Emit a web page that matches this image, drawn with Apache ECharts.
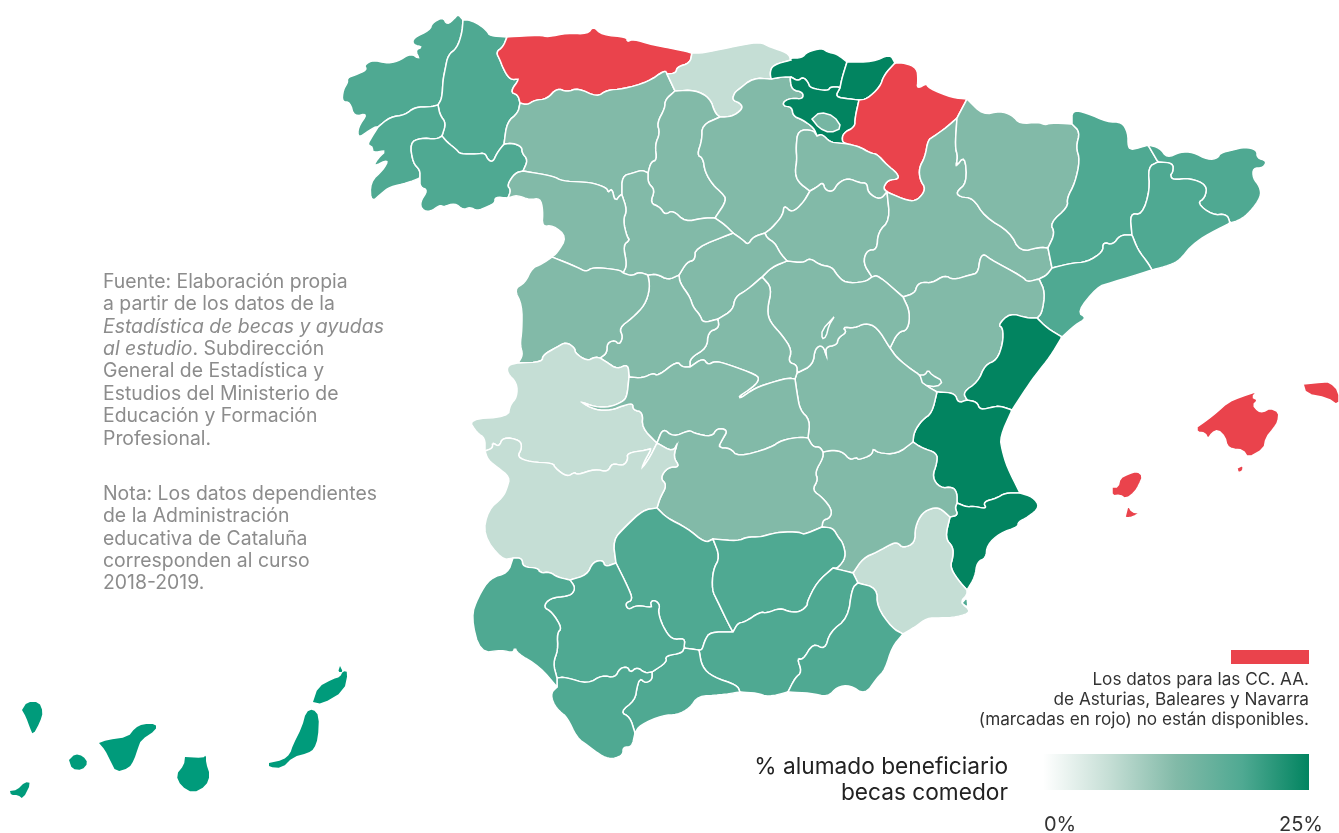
<!DOCTYPE html>
<html>
<head>
<meta charset="utf-8">
<title>Becas comedor</title>
<script src="https://cdn.jsdelivr.net/npm/echarts@6/dist/echarts.min.js"></script>
<style>
html,body{margin:0;padding:0;background:#fff}
#main{width:1339px;height:833px}
</style>
</head>
<body>
<div id="main"></div>
<script>
// datos: % alumnado beneficiario por provincia (null = no disponible)
var claros = ['Cantabria','Cáceres','Badajoz','Murcia'];
var medios = ['León','Palencia','Zamora','Valladolid','Burgos','Soria','La Rioja','Huesca','Zaragoza','Teruel','Salamanca','Ávila','Segovia','Madrid','Guadalajara','Cuenca','Toledo','Ciudad Real','Albacete'];
var enclaves = ['Treviño','Rincón de Ademuz','Entrepeñas'];
var fuertes = ['A Coruña','Lugo','Pontevedra','Ourense','Lleida','Girona','Barcelona','Tarragona','Huelva','Sevilla','Cádiz','Córdoba','Málaga','Jaén','Granada','Almería','Mar Menor'];
var oscuros = ['Bizkaia','Gipuzkoa','Álava','Castellón','Valencia','Alicante'];
var sinDatos = ['Asturias','Navarra','Baleares'];
var canarias = ['Las Palmas','Santa Cruz de Tenerife'];
var valorClaro = 6.25, valorMedio = 12.5, valorEnclave = 14, valorFuerte = 18.75, valorOscuro = 25, valorCanarias = 21;

var textoFuente = ['Fuente: Elaboración propia','a partir de los datos de la','{i|Estadística de becas y ayudas}','{i|al estudio}. Subdirección','General de Estadística y','Estudios del Ministerio de','Educación y Formación','Profesional.'];
var textoNota = ['Nota: Los datos dependientes','de la Administración','educativa de Cataluña','corresponden al curso','2018-2019.'];
var textoRojo = ['Los datos para las CC. AA.','de Asturias, Baleares y Navarra','(marcadas en rojo) no están disponibles.'];
var textoLeyenda = ['% alumado beneficiario','becas comedor'];
var rangoLeyenda = [0, 25];
var coloresEscala = ['#ffffff','#c5ded5','#82baa8','#4fa992','#028460'];

// geometria del mapa, en pixeles, por tramos de frontera compartidos
var T = {
C_coast:[463,20,458,14,455,18,447,25,443,17,432,23,430,30,413,38,413,45,423,47,415,50,420,60,411,53,397,62,385,63,373,60,364,65,367,70,355,75,347,78,348,82,343,90,342,102,350,102,354,117,368,113,358,127,358,138,367,132,375,127,378,127],
C_LU:[463,20,462,33,457,48,448,55,445,70,443,80,442,98,438,105],
C_PO:[438,105,430,107,415,107,405,115,390,117,378,127],
PO_LU:[438,105,440,115,446,123,442,136],
PO_coast:[378,127,373,135,367,145,373,147,372,153,387,150,378,158,373,167,389,159,383,170,370,182,371,203,383,192,390,187,407,183,420,178],
PO_OU:[442,136,437,139,420,138,410,143,413,163,420,170,420,178],
OU_coast:[420,178,420,187,428,190,420,202,422,210,430,212,440,205,443,207,455,203,463,210,470,207,477,211,487,207,495,203,495,197,508,198],
OU_ZA:[523,171,515,173,507,185,511,190,508,198],
OU_LE:[504,144,513,143,522,147,522,153,528,160,523,171],
LU_OU:[442,136,447,142,457,150,460,154,477,154,485,153,488,160,493,162,497,153,504,144],
LU_coast:[463,20,470,20,480,25,487,31,490,36,507,37],
LU_AS:[507,37,503,47,496,52,500,60,503,68,508,77,513,80,520,78,510,92,518,95,520,103],
LU_LE:[520,103,518,113,507,122,504,144],
AS_coast:[507,37,540,35,548,37,567,33,588,34,593,26,602,35,627,37,627,42,633,39,653,45,680,50,692,53],
AS_LE:[520,103,527,105,535,100,547,99,557,88,567,92,578,88,597,97,607,90,623,89,648,82,665,70,667,74],
AS_S:[692,53,690,63,677,67,676,73,667,74],
LE_S:[667,74,675,91],
LE_P:[675,91,665,100,665,108,657,123,660,133,655,145,657,160,651,162,648,173],
LE_VA:[648,173,642,170,633,173,622,176,622,195],
LE_ZA:[523,171,553,176,562,181,582,182,593,183,607,188,608,193,612,188,615,202,620,195,622,195],
ZA_VA:[622,195,627,210,623,220,627,237,630,240,623,245,627,265,623,273],
ZA_SA:[552,257,577,267,586,272,593,267,620,270,623,273],
ZA_coast:[508,198,517,195,530,200,540,198,543,210,542,227,553,225,567,237,557,253,552,257],
SA_coast:[552,257,542,264,532,268,525,283,514,289,522,305,522,330,520,345,523,355,518,363],
SA_CC:[518,363,542,362,543,355,557,347,566,342,575,348,575,353,587,361,595,357,600,358],
AV_CC:[600,358,608,363,617,369,628,364,629,377],
SA_AV:[648,275,650,288,645,305,632,318,619,328,623,337,619,345,615,340,607,343,607,353,600,358],
SA_VA:[623,273,632,276,639,272,648,275],
VA_AV:[648,275,657,274,668,280,679,275],
AV_SG:[679,275,680,283,690,297,693,307,700,315,703,323,718,319],
AV_M:[718,319,719,328,708,332,707,348,690,358,690,367],
AV_TO:[629,377,643,378,653,373,658,376,677,361,682,367,690,367],
SG_M:[718,319,733,310,735,297,747,290,762,277],
M_TO:[690,367,703,358,708,365,715,361,727,364,757,375,759,380,753,387,738,397,741,398,755,388,773,382,788,378,795,379],
M_GU:[762,277,772,288,767,310,770,322,782,335,792,350,788,362,797,365,797,373],
M_CU:[797,373,795,379],
SG_GU:[762,277,772,267,787,261],
SO_GU:[787,261,803,263,810,258,820,265,832,267,837,275,845,283,865,282,872,277],
S_coast:[692,53,703,53,727,48,742,45,760,42,770,47,788,53,791,60],
S_BI:[791,60,773,65,770,72,771,79],
S_BU:[720,117,727,117,735,115,743,108,740,103,732,100,735,92,738,90,753,78,771,79],
S_P:[675,91,695,90,710,98,715,113,720,117],
P_BU:[720,117,702,125,702,140,697,155,703,158,705,172,713,185,722,193,727,200,715,218],
VA_P:[648,173,648,183,655,190,650,203,660,207,665,215,673,210,685,222,703,218,715,218],
VA_BU:[715,218,725,225,733,233],
VA_SG:[733,233,695,248,695,260,687,262,679,275],
BU_SG:[733,233,743,240,748,245,753,237,765,233],
SG_SO:[765,233,767,238,775,243,780,253,787,261],
BU_SO:[810,191,803,203,792,213,784,205,783,215,772,228,765,233],
LO_BU:[810,191,798,182,795,172,797,160,796,147,798,130,813,130,817,136],
BU_VI:[791,77,790,79,792,90,803,92,803,99,792,98,784,101,783,106,792,107,793,116,803,120,814,128,817,136],
BI_BU:[771,79,782,77,791,77],
BI_coast:[791,60,790,58,802,58,807,52,822,48,827,52,837,54,847,62],
VI_BI:[791,77,798,81,803,77,808,82,810,88,828,91,830,87,839,87,840,88],
BI_SS:[847,62,842,78,840,88],
VI_SS:[840,88,835,97,850,99,859,100],
SS_NA:[859,100,867,99,880,87,884,75,895,63],
SS_coast:[847,62,873,62,890,54,895,63],
VI_NA:[859,100,855,118,855,127,843,133,842,142,848,144],
VI_LO:[817,136,822,134,830,142,838,143,848,144],
NA_LO:[848,144,860,147,870,153,877,154,887,165,897,173,899,179,888,180,883,188,887,192],
NA_Z:[887,192,908,201,918,200,926,189,920,180,919,168,925,157,928,140,933,137,947,127,957,118],
NA_HU:[957,118,967,99],
NA_coast:[895,63,905,63,917,68,918,80,917,89,927,83,928,88,953,98,967,99],
LO_SO:[810,191,817,187,823,182,825,190,833,192,838,183,848,178,860,183,867,183,868,193,880,200,887,192],
Z_SO:[887,192,890,220,878,232,877,250,867,250,863,263,872,277],
Z_GU:[872,277,878,275,903,297],
Z_TE:[903,297,915,293,917,285,923,282,932,283,945,275,953,280,970,275,978,273,980,258,984,254,988,258,1023,277,1027,282,1039,279],
Z_T:[1039,279,1047,275,1052,268],
Z_HU:[957,118,955,147,958,157,955,168,965,155,967,183,956,192,960,197,973,198,985,217,1010,232,1020,252,1040,247,1048,248],
Z_L:[1048,248,1052,268],
HU_coast:[967,99,983,115,1000,111,1012,115,1020,124,1038,122,1045,125,1050,123,1072,124],
HU_L:[1072,124,1080,132,1076,147,1080,160,1075,183,1067,198,1068,207,1050,223,1055,233,1048,248],
L_T:[1052,268,1072,263,1087,262,1103,252,1103,242,1113,245,1120,235,1132,235],
L_B:[1132,235,1130,213,1142,215,1150,190,1148,167,1158,162],
L_GI:[1148,145,1158,162],
L_coast:[1072,124,1072,110,1087,113,1107,122,1122,122,1128,133,1128,147,1132,150,1148,145],
B_GI:[1158,162,1173,163,1173,172,1170,175,1173,180,1190,178,1207,185,1205,198,1197,203,1212,215,1227,214,1230,223],
GI_coast:[1148,145,1160,148,1167,158,1180,152,1193,152,1208,160,1218,158,1220,153,1233,150,1245,147,1257,150,1257,158,1267,161,1263,168,1253,168,1253,178,1260,187,1261,197,1250,212,1240,220,1230,223],
B_coast:[1230,223,1203,237,1190,247,1180,260,1170,265,1152,270],
B_T:[1132,235,1138,250,1148,263,1152,270],
T_coast:[1152,270,1110,283,1097,287,1077,312,1087,318,1075,325,1062,337],
T_TE:[1039,279,1045,292,1042,313,1037,318],
T_CS:[1037,318,1047,328,1062,337],
TE_CS:[1037,318,1027,318,1010,313,998,325,1003,328,1003,343,997,360,985,365,978,382,963,392,967,400],
TE_V:[967,400,958,403,955,393,937,392],
CS_V:[967,400,977,402,980,410,993,407,1000,406,1012,410],
CS_coast:[1062,337,1050,357,1037,373,1027,387,1012,410],
TE_GU:[903,297,910,312,908,330,898,332,890,348],
TE_CU:[890,348,897,358,912,370,920,375,925,385,937,392],
GU_CU:[797,373,813,365,815,348,823,345,827,358,825,347,837,345,838,338,847,332,842,327,855,328,865,323,877,327,890,348],
CU_V:[937,392,932,413,922,420,914,432,913,442],
V_AB:[913,442,922,448,937,453,937,463,932,477,940,488,953,487,957,493,957,503],
A_AB:[957,503,955,508,958,515,950,517],
V_A:[957,503,967,507,973,506,987,509,983,502,997,498,1005,493,1020,493],
V_coast:[1012,410,1000,437,1002,450,1007,467,1020,493],
A_coast:[1020,493,1033,497,1040,507,1028,517,1018,522,1018,527,1000,533,987,545,986,558,977,562,975,577,967,590],
A_MU:[950,517,945,538,953,547,953,557,950,567,958,580,967,590],
MU_coast:[967,590,967,595,960,602,972,612,957,617,940,618,927,618,915,627,903,634],
AB_MU:[950,517,940,508,932,508,922,513,915,527,915,543,903,548,898,543,893,543,877,552,863,558,853,573],
AB_GR:[833,568,853,573],
MU_GR:[853,573,858,583],
MU_AL:[858,583,877,588,877,607,892,628,903,634],
GR_AL:[858,583,852,588,848,618,830,632,825,650,813,643,803,660,797,658,802,672,795,678,788,692],
AL_coast:[903,634,892,647,885,670,877,678,865,695,850,685,837,687,828,697,810,693,788,692],
CU_AB:[823,452,833,450,843,452,850,460,857,457,858,460,872,455,873,448,878,453,897,454,913,442],
TO_CU:[795,379,797,393,800,410,810,420,808,438],
CU_CR:[808,438,813,447,820,447,823,452],
CR_AB:[822,527,823,520,830,518,832,510,823,498,812,490,818,480,815,472,823,458,823,452],
AB_J:[822,527,833,528,838,537,843,543,846,557,838,568,833,568],
TO_CR:[808,438,800,437,782,440,770,448,738,457,730,448,718,448,722,440,728,430,717,428,712,437,693,433,690,430,673,437,663,428,657,443],
CC_TO:[629,377,627,397,622,402,610,407,595,407,579,401,595,410,612,410,622,406,633,403,633,410,643,412,642,428,657,443],
CC_coast:[518,363,508,365,507,373,517,383,517,397,510,405,508,417,468,419,477,433,485,438,485,451],
CC_BA:[485,451,493,448,492,442,499,447,503,437,520,440,522,448,517,457,530,462,553,463,555,468,567,477,575,472,577,475,595,469,608,472,612,463,623,466,628,460,627,453,647,450,652,448,645,460,641,470,650,457,655,447,657,443],
BA_CR:[657,443,673,452,678,442,673,457,680,467,668,467,660,478,667,485,660,498,657,508],
CR_CO:[657,508,667,518,687,528,705,543,713,539],
CR_J:[713,539,738,541,747,537,760,537,767,535,780,532,800,532,803,535,822,527],
CO_J:[713,539,720,557,713,570,712,590,717,600,728,623,733,632],
J_GR:[833,568,817,582,807,602,808,605,800,612,790,612,780,608,767,613,760,612,745,622,738,623,733,632],
CO_GR:[733,632,710,632,705,640,702,650,699,650],
GR_MA:[699,650,702,667,713,677,737,685,740,692],
GR_coast:[740,692,757,693,768,697,788,692],
MA_coast:[740,692,720,695,698,696,690,708,677,715,663,715,640,725,635,733],
MA_CA:[635,733,630,717,620,712,635,700,637,687,640,678,645,683,652,680,652,672],
MA_SE:[652,672,667,662,665,656,682,653,684,648],
CO_MA:[684,648,699,650],
SE_CO:[684,648,685,638,672,640,663,627,658,612,660,605,655,600,650,602,653,608,637,605,628,610,625,603,633,600,628,587,616,563],
BA_CO:[616,563,613,540,625,527,643,510,657,508],
BA_SE:[616,563,605,567,603,560,593,562,587,575,570,580],
H_BA:[570,580,557,577,550,572,540,573,538,568,523,567,522,558,513,558],
BA_coast:[485,451,488,460,497,467,510,477,507,488,503,497,488,510,483,535,502,560,513,558],
H_coast:[513,558,508,573,490,578,478,597,471,617,480,653,502,650,513,653,515,647,517,653,540,667,557,687],
H_SE:[570,580,575,587,573,593,568,596,550,598,543,607,552,612,562,628,557,633,558,650,553,663,557,678],
H_CA:[557,678,557,687],
SE_CA:[557,678,565,677,588,684,602,675,615,678,620,668,628,667,630,673,637,667,645,673,652,672],
CA_coast:[557,687,551,693,553,703,560,712,567,717,577,738,587,745,603,757,613,759,623,755,623,747,632,747,635,733]
};
// cada provincia: lista de tramos ('-' = recorrido al reves) o islas sueltas
var R = {
'A Coruña':['C_coast','-C_PO','-C_LU'],
'Lugo':['LU_coast','LU_AS','LU_LE','-LU_OU','-PO_LU','-C_LU'],
'Pontevedra':['C_PO','PO_coast','-PO_OU','-PO_LU'],
'Ourense':['PO_OU','OU_coast','-OU_ZA','-OU_LE','-LU_OU'],
'Asturias':['AS_coast','AS_S','-AS_LE','-LU_AS'],
'León':['LE_S','LE_P','LE_VA','-LE_ZA','-OU_LE','-LU_LE','AS_LE'],
'Cantabria':['S_coast','S_BI','-S_BU','-S_P','-LE_S','-AS_S'],
'Palencia':['S_P','P_BU','-VA_P','-LE_P'],
'Burgos':['S_BU','BI_BU','BU_VI','-LO_BU','BU_SO','-BU_SG','-VA_BU','-P_BU'],
'Bizkaia':['BI_coast','BI_SS','-VI_BI','-BI_BU','-S_BI'],
'Gipuzkoa':['SS_coast','-SS_NA','-VI_SS','-BI_SS'],
'Álava':['VI_BI','VI_SS','VI_NA','-VI_LO','-BU_VI'],
'Navarra':['SS_NA','NA_coast','-NA_HU','-NA_Z','-NA_LO','-VI_NA'],
'La Rioja':['LO_BU','VI_LO','NA_LO','-LO_SO'],
'Soria':['LO_SO','Z_SO','-SO_GU','-SG_SO','-BU_SO'],
'Zaragoza':['NA_Z','Z_HU','Z_L','-Z_T','-Z_TE','-Z_GU','-Z_SO'],
'Huesca':['NA_HU','HU_coast','HU_L','-Z_HU'],
'Lleida':['-HU_L','L_coast','L_GI','-L_B','-L_T','-Z_L'],
'Girona':['GI_coast','-B_GI','-L_GI'],
'Barcelona':['L_B','B_GI','B_coast','-B_T'],
'Tarragona':['L_T','B_T','T_coast','-T_CS','-T_TE','Z_T'],
'Teruel':['Z_TE','T_TE','TE_CS','TE_V','-TE_CU','-TE_GU'],
'Castellón':['T_CS','CS_coast','-CS_V','-TE_CS'],
'Valencia':['CS_V','V_coast','-V_A','-V_AB','-CU_V','-TE_V'],
'Alicante':['V_A','A_coast','-A_MU','-A_AB'],
'Murcia':['AB_MU','MU_GR','MU_AL','-MU_coast','-A_MU'],
'Albacete':['V_AB','A_AB','AB_MU','-AB_GR','-AB_J','CR_AB','CU_AB'],
'Cuenca':['GU_CU','TE_CU','CU_V','-CU_AB','-CU_CR','-TO_CU','-M_CU'],
'Guadalajara':['SO_GU','Z_GU','TE_GU','-GU_CU','-M_GU','SG_GU'],
'Segovia':['BU_SG','SG_SO','-SG_GU','-SG_M','-AV_SG','-VA_SG'],
'Madrid':['SG_M','M_GU','M_CU','-M_TO','-AV_M'],
'Ávila':['VA_AV','AV_SG','AV_M','-AV_TO','-AV_CC','-SA_AV'],
'Valladolid':['-LE_VA','VA_P','VA_BU','VA_SG','-VA_AV','-SA_VA','-ZA_VA'],
'Zamora':['LE_ZA','ZA_VA','-ZA_SA','-ZA_coast','-OU_ZA'],
'Salamanca':['ZA_SA','SA_VA','SA_AV','-SA_CC','-SA_coast'],
'Cáceres':['SA_CC','AV_CC','CC_TO','-CC_BA','-CC_coast'],
'Toledo':['AV_TO','M_TO','TO_CU','TO_CR','-CC_TO'],
'Ciudad Real':['-TO_CR','CU_CR','-CR_AB','-CR_J','-CR_CO','-BA_CR'],
'Badajoz':['CC_BA','BA_CR','-BA_CO','BA_SE','H_BA','-BA_coast'],
'Córdoba':['CR_CO','CO_J','CO_GR','-CO_MA','SE_CO','BA_CO'],
'Jaén':['CR_J','AB_J','J_GR','-CO_J'],
'Granada':['AB_GR','MU_GR','GR_AL','-GR_coast','-GR_MA','-CO_GR','-J_GR'],
'Almería':['MU_AL','AL_coast','-GR_AL'],
'Málaga':['CO_MA','GR_MA','MA_coast','MA_CA','MA_SE'],
'Sevilla':['-SE_CO','-MA_SE','-SE_CA','-H_SE','-BA_SE'],
'Cádiz':['SE_CA','-MA_CA','-CA_coast','-H_CA'],
'Huelva':['-H_BA','H_SE','H_CA','-H_coast']
};
var islas = {
'Baleares':[
[1197,427,1207,420,1217,412,1228,402,1240,397,1258,391,1252,397,1258,400,1253,405,1258,411,1263,412,1270,408,1279,412,1278,422,1274,428,1266,438,1264,449,1248,458,1243,450,1232,449,1227,446,1225,437,1218,430,1212,433,1208,439,1205,433,1197,432],
[1237,468,1243,465,1243,471,1238,473],
[1303,384,1323,382,1330,382,1339,391,1339,406,1327,398,1306,394],
[1112,487,1118,487,1120,478,1128,474,1137,471,1143,476,1139,485,1135,492,1126,499,1120,495,1112,496],
[1125,517,1128,505,1132,512,1140,513,1133,517,1127,518]],
'Treviño':[[812,119,820,112,834,116,842,128,830,133,819,128]],
'Rincón de Ademuz':[[920,375,923,385,937,387,943,381,932,375,928,370,925,375]],
'Entrepeñas':[[834,317,822,330,822,339,826,337,829,325]],
'Mar Menor':[[962,603,967,597,968,608]]
};
var islasCanarias = {
'Santa Cruz de Tenerife':[
[22,710,27,702,39,702,43,712,40,722,33,735,30,728,26,717],
[10,791,17,790,25,782,31,783,23,799,18,795,11,795],
[69,760,75,754,83,756,88,763,82,770,72,769],
[99,743,107,740,128,737,135,728,143,724,156,724,156,730,141,740,138,748,134,760,129,768,116,772,110,760,105,750]],
'Las Palmas':[
[185,757,203,758,206,755,206,763,210,775,206,786,193,793,181,786,176,775,184,765],
[269,763,283,760,290,754,293,745,302,727,306,712,313,709,319,716,318,738,314,749,308,753,293,757,282,768,269,767],
[313,702,318,687,333,679,340,677,343,671,348,672,344,691,322,704],
[340,666,343,672,338,672]]
};

// suavizado de los tramos (corte de esquinas), conserva los extremos
function suavizar(p){
    var out=[p[0]];
    for(var i=0;i<p.length-1;i++){
        var a=p[i],b=p[i+1];
        out.push([a[0]*0.75+b[0]*0.25,a[1]*0.75+b[1]*0.25]);
        out.push([a[0]*0.25+b[0]*0.75,a[1]*0.25+b[1]*0.75]);
    }
    out.push(p[p.length-1]);
    return out;
}
function pares(a){
    var out=[];
    for(var i=0;i<a.length;i+=2){
        out.push([a[i],a[i+1]]);
    }
    return out;
}
function anillo(tramos){
    var out=[];
    tramos.forEach(function(t){
        var inv=t.charAt(0)=='-';
        var p=suavizar(suavizar(pares(T[inv?t.slice(1):t])));
        if(inv){
            p.reverse();
        }
        out=out.concat(p);
    });
    out.push(out[0]);
    return out;
}
function cerrar(a){
    var p=pares(a);
    p.push(p[0]);
    p=suavizar(p);
    p.push(p[0]);
    return [p];
}
function feature(name,coords){
    return {type:'Feature',properties:{name:name},geometry:{type:'MultiPolygon',coordinates:coords}};
}
var rasgos=[];
for(var n in R){
    rasgos.push(feature(n,[[anillo(R[n])]]));
}
for(var k in islas){
    rasgos.push(feature(k,islas[k].map(cerrar)));
}
var rasgosCanarias=[];
for(var c in islasCanarias){
    rasgosCanarias.push(feature(c,islasCanarias[c].map(cerrar)));
}
echarts.registerMap('espana',{type:'FeatureCollection',features:rasgos});
echarts.registerMap('canarias',{type:'FeatureCollection',features:rasgosCanarias});

function filas(nombres,valor){
    return nombres.map(function(n){
        return {name:n,value:valor};
    });
}
var datosMapa=[].concat(filas(claros,valorClaro),filas(medios,valorMedio),filas(enclaves,valorEnclave),filas(fuertes,valorFuerte),filas(oscuros,valorOscuro),filas(sinDatos,null));

var plano={project:function(p){return p;},unproject:function(p){return p;}};
var ROJO='#ea434c', FUENTE='"Inter","Noto Sans",sans-serif';

var textos=[];
function linea(txt,x,y,size,color,align){
    textos.push({
        type:'text',
        x:x,
        y:y,
        silent:true,
        style:{
            text:txt,
            fill:color,
            font:size+'px '+FUENTE,
            align:align,
            verticalAlign:'middle',
            rich:{i:{fontStyle:'italic',fontSize:size,fontFamily:FUENTE,fill:color}}
        }
    });
}
textoFuente.forEach(function(t,i){ linea(t,103,282+i*22.4,19.4,'#8c8c8c','left'); });
textoNota.forEach(function(t,i){ linea(t,103,494+i*22.4,19.4,'#8c8c8c','left'); });
textoRojo.forEach(function(t,i){ linea(t,1309,680+i*19.7,17.2,'#333','right'); });
textoLeyenda.forEach(function(t,i){ linea(t,1008,767+i*26,22.7,'#222','right'); });
linea(rangoLeyenda[0]+'%',1044,825,20,'#333','left');
linea(rangoLeyenda[1]+'%',1323,825,20,'#333','right');
textos.push({type:'rect',silent:true,shape:{x:1231,y:650,width:78,height:14},style:{fill:ROJO}});
// barra de la escala
textos.push({type:'rect',silent:true,shape:{x:1043,y:754,width:266,height:36},style:{
    fill:new echarts.graphic.LinearGradient(0,0,1,0,coloresEscala.map(function(col,i){
        return {offset:i/(coloresEscala.length-1),color:col};
    }))
}});

var myChart=echarts.init(document.getElementById('main'),null,{renderer:'canvas'});
var option={
    animation:false,
    backgroundColor:'#fff',
    visualMap:{
        type:'continuous',
        show:false,
        seriesIndex:0,
        min:rangoLeyenda[0],
        max:rangoLeyenda[1],
        inRange:{color:coloresEscala},
        outOfRange:{color:ROJO}
    },
    series:[{
        type:'map',
        map:'espana',
        projection:plano,
        boundingCoords:[[0,0],[1339,833]],
        aspectScale:1,
        left:0,
        top:0,
        width:1339,
        height:833,
        silent:true,
        selectedMode:false,
        label:{show:false},
        emphasis:{disabled:true},
        itemStyle:{areaColor:ROJO,borderColor:'#fff',borderWidth:1.5},
        regions:[
            {name:'Treviño',itemStyle:{borderWidth:0}},
            {name:'Entrepeñas',itemStyle:{borderWidth:0}},
            {name:'Mar Menor',itemStyle:{borderWidth:0}}
        ],
        data:datosMapa
    },{
        type:'map',
        map:'canarias',
        projection:plano,
        boundingCoords:[[0,0],[1339,833]],
        aspectScale:1,
        left:0,
        top:0,
        width:1339,
        height:833,
        silent:true,
        selectedMode:false,
        label:{show:false},
        emphasis:{disabled:true},
        itemStyle:{areaColor:'#009b7b',borderWidth:0},
        data:filas(canarias,valorCanarias)
    }],
    graphic:textos
};
myChart.setOption(option);
</script>
</body>
</html>
